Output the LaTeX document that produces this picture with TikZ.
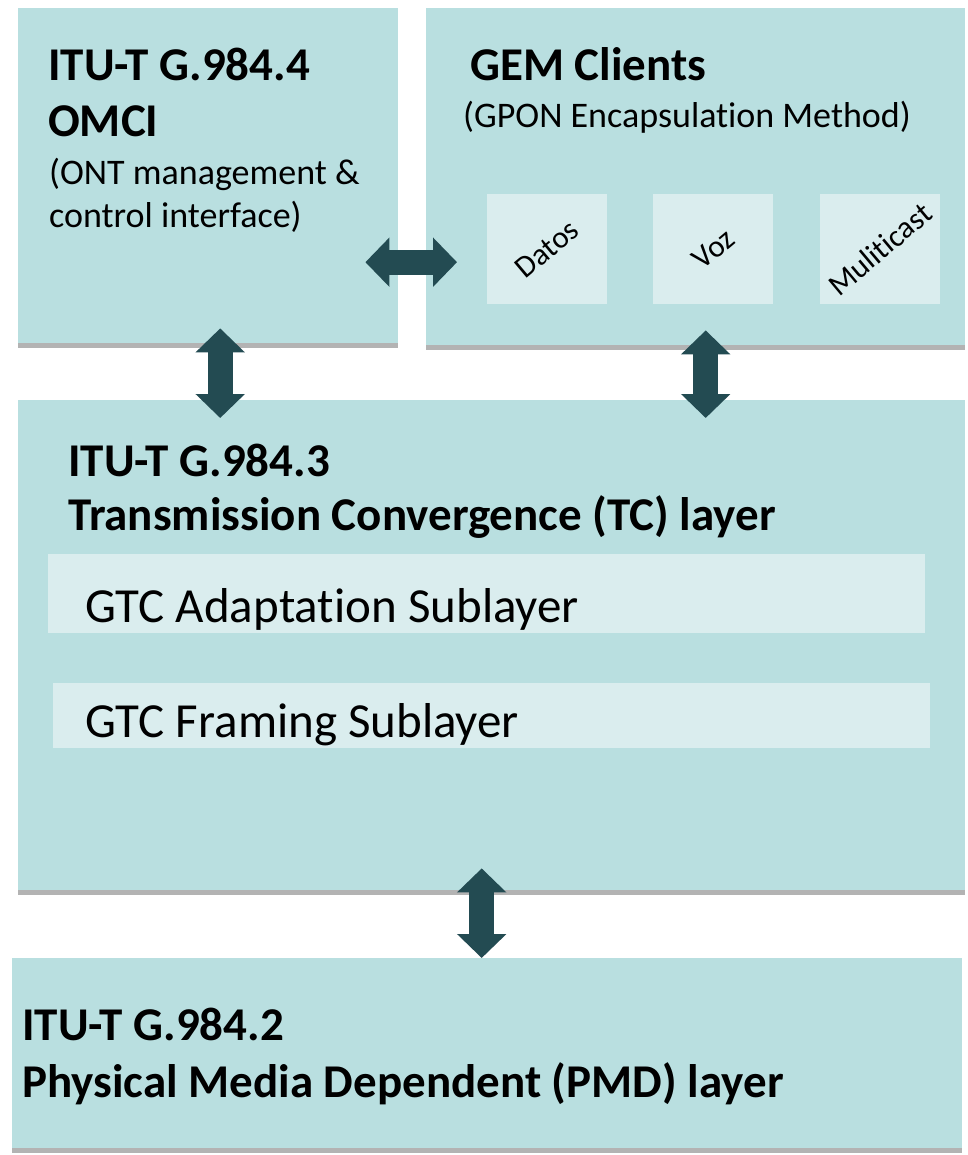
\documentclass[tikz,border=0pt]{standalone}
\usepackage{fontspec}
\setmainfont{Carlito}[Ligatures=NoCommon]
\usetikzlibrary{positioning,shadows,arrows.meta}
\definecolor{layerfill}{HTML}{B9DFE0}
\definecolor{subfill}{HTML}{DAEDEE}
\definecolor{linkcol}{HTML}{234B52}

\begin{document}
\begin{tikzpicture}[x=1pt, y=-1pt,
  layer/.style={fill=layerfill, anchor=north west, inner sep=0pt, drop shadow={shadow xshift=0pt, shadow yshift=-5pt, opacity=0.6}},
  client/.style={fill=subfill, minimum width=120pt, minimum height=110pt, inner sep=0pt},
  clienttext/.style={rotate=40, inner sep=0pt, font=\fontsize{31}{36}\selectfont},
  sub/.style={fill=subfill, anchor=north west, minimum width=877pt, inner sep=0pt},
  title/.style={anchor=base west, inner sep=0pt, font=\bfseries\fontsize{47}{54}\selectfont},
  note/.style={anchor=base west, inner sep=0pt, font=\fontsize{36}{42}\selectfont},
  subtext/.style={anchor=base west, inner sep=0pt, font=\fontsize{49}{56}\selectfont},
  link/.style={draw=linkcol, line width=25pt, {Triangle[length=24pt, width=48pt]}-{Triangle[length=24pt, width=48pt]}}]
\useasboundingbox (0,0) rectangle (967,1155);

% layers
\node[layer, minimum width=380pt, minimum height=335pt] (omci) at (18,8) {};
\node[layer, minimum width=539pt, minimum height=337pt] (gem)  at (426,8) {};
\node[layer, minimum width=947pt, minimum height=490pt] (tc)   at (18,400) {};
\node[layer, minimum width=950pt, minimum height=190pt] (pmd)  at (12,958) {};

% OMCI
\node[title] (omcit1) at ([shift={(30,73)}]omci.north west) {ITU-T G.984.4};
\node[title] (omcit2) at ([yshift=-56pt]omcit1.base west) {OMCI};
\node[note]  (omcin1) at ([shift={(31,177)}]omci.north west) {(ONT management \&};
\node[note]  (omcin2) at ([yshift=-43pt]omcin1.base west) {control interface)};

% GEM clients
\node[title] (gemt) at ([shift={(44,73)}]gem.north west) {GEM Clients};
\node[note]  (gemn) at ([shift={(37,120)}]gem.north west) {(GPON Encapsulation Method)};
\node[client] (datos) at (547,249) {};
\node[client, right=46pt of datos] (voz) {};
\node[client, right=46pt of voz] (mcast) {};
\node[clienttext] (datost) at (datos) {Datos};
\node[clienttext] (vozt) at (voz) {Voz};
\node[clienttext] (mcastt) at (mcast) {Muliticast};

% TC layer
\node[title] (tct1) at ([shift={(50,76)}]tc.north west) {ITU-T G.984.3};
\node[title] (tct2) at ([yshift=-54pt]tct1.base west) {Transmission Convergence (TC) layer};
\node[sub, minimum height=79pt] (adapt) at ([shift={(30,154)}]tc.north west) {};
\node[sub, minimum height=65pt] (framing) at ([shift={(35,283)}]tc.north west) {};
\node[subtext] (adaptt) at ([shift={(37,68)}]adapt.north west) {GTC Adaptation Sublayer};
\node[subtext] (framingt) at ([shift={(32,54)}]framing.north west) {GTC Framing Sublayer};

% PMD layer
\node[title] (pmdt1) at ([shift={(10,82)}]pmd.north west) {ITU-T G.984.2};
\node[title] (pmdt2) at ([yshift=-57pt]pmdt1.base west) {Physical Media Dependent (PMD) layer};

% links
\draw[link] ([xshift=-33pt, yshift=-86.5pt]omci.east) -- ([xshift=31pt, yshift=-86.5pt]omci.east -| gem.west);
\draw[link] ([xshift=12pt, yshift=15pt]omci.south) -- ([xshift=12pt, yshift=-18pt]omci.south |- tc.north);
\draw[link] ([xshift=10pt, yshift=15pt]gem.south) -- ([xshift=10pt, yshift=-18pt]gem.south |- tc.north);
\draw[link] ([xshift=-10pt, yshift=22pt]tc.south) -- ([xshift=-10pt]tc.south |- pmd.north);

\end{tikzpicture}
\end{document}
